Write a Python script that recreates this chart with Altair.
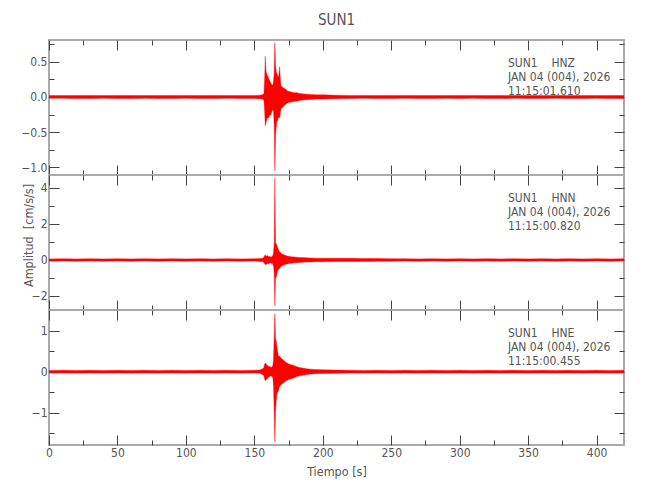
import altair as alt
import pandas as pd

FONT = "Liberation Sans Narrow, DejaVu Sans Condensed, Liberation Sans, sans-serif"

# ---------------- data (envelope of each trace) ----------------
TIME = [0, 10, 20, 30, 40, 50, 60, 70, 80, 90, 100, 110, 120, 130, 140, 150,
        154, 156, 157,
        157.5, 158, 158.5, 159, 159.5, 160, 160.5, 161, 161.5, 162, 162.5, 163, 163.5,
        164, 164.5, 165, 165.5, 166, 166.5, 167, 167.5, 168, 168.5, 169, 169.5, 170,
        171, 172, 173, 174, 175,
        177, 179, 181, 183, 185,
        188, 191, 195, 200,
        210, 220, 230, 240, 250, 260, 270, 280, 290, 300, 310, 320, 330, 340, 350,
        360, 370, 380, 390, 400, 410, 420]

HNZ_UP = [.02, .022, .02, .022, .02, .022, .02, .022, .02, .022, .022, .02, .022, .02, .022, .022,
          .025, .03, .05,
          .25, .58, .37, .33, .30, .29, .26, .24, .22, .20, .18, .17, .17,
          .22, .35, .77, .45, .36, .33, .30, .28, .33, .43, .25, .16, .15,
          .13, .12, .11, .09, .08,
          .07, .06, .06, .05, .045,
          .04, .035, .03, .03,
          .025, .022, .022, .02, .022, .022, .02, .022, .02, .022, .022, .02, .022, .02, .022,
          .022, .02, .022, .02, .022, .022, .02]
HNZ_LO = [-.02, -.02, -.022, -.022, -.02, -.022, -.022, -.02, -.022, -.022, -.02, -.022, -.022, -.02, -.022, -.022,
          -.025, -.03, -.05,
          -.20, -.41, -.37, -.33, -.30, -.28, -.30, -.27, -.25, -.26, -.22, -.20, -.18,
          -.20, -.40, -1.05, -.55, -.42, -.35, -.33, -.30, -.28, -.30, -.22, -.17, -.16,
          -.14, -.12, -.10, -.09, -.08,
          -.07, -.06, -.06, -.05, -.045,
          -.04, -.035, -.03, -.03,
          -.025, -.022, -.02, -.022, -.022, -.02, -.022, -.022, -.02, -.022, -.02, -.022, -.022, -.02, -.022,
          -.022, -.02, -.022, -.022, -.02, -.022, -.022]

HNN_UP = [.06, .07, .06, .07, .06, .07, .06, .07, .06, .07, .06, .07, .06, .07, .06, .07,
          .08, .10, .15,
          .25, .28, .24, .22, .25, .20, .18, .20, .17, .18, .16, .20, .25,
          .40, .90, 4.55, .95, .90, .80, .70, .60, .50, .46, .42, .38, .34,
          .30, .27, .25, .22, .20,
          .18, .17, .15, .14, .13,
          .12, .11, .10, .10,
          .09, .09, .08, .08, .07, .07, .06, .07, .06, .07, .06, .07, .06, .07, .06,
          .07, .06, .07, .06, .07, .06, .07]
HNN_LO = [-.07, -.06, -.07, -.06, -.07, -.06, -.07, -.06, -.07, -.06, -.07, -.06, -.07, -.06, -.07, -.06,
          -.08, -.09, -.13,
          -.22, -.26, -.25, -.22, -.20, -.22, -.20, -.18, -.17, -.16, -.18, -.20, -.22,
          -.35, -.70, -2.55, -1.00, -.95, -.75, -.60, -.55, -.50, -.46, -.40, -.36, -.33,
          -.30, -.27, -.24, -.22, -.20,
          -.18, -.16, -.15, -.14, -.13,
          -.12, -.11, -.10, -.10,
          -.09, -.08, -.08, -.07, -.07, -.06, -.07, -.06, -.07, -.06, -.07, -.06, -.07, -.06, -.07,
          -.06, -.07, -.06, -.07, -.06, -.07, -.06]

HNE_UP = [.03, .035, .03, .035, .03, .035, .03, .035, .03, .035, .03, .035, .03, .035, .03, .035,
          .04, .07, .10,
          .18, .21, .20, .17, .15, .14, .12, .13, .11, .12, .10, .12, .15,
          .30, .84, 1.41, .80, .75, .60, .50, .39, .37, .38, .35, .33, .32,
          .29, .26, .23, .21, .19,
          .17, .15, .12, .10, .09,
          .07, .06, .05, .045,
          .04, .035, .03, .035, .03, .035, .03, .035, .03, .035, .03, .035, .03, .035, .03,
          .035, .03, .035, .03, .035, .03, .035]
HNE_LO = [-.035, -.03, -.035, -.03, -.035, -.03, -.035, -.03, -.035, -.03, -.035, -.03, -.035, -.03, -.035, -.03,
          -.04, -.07, -.10,
          -.18, -.22, -.20, -.18, -.17, -.15, -.13, -.12, -.11, -.10, -.11, -.12, -.15,
          -.35, -.99, -1.72, -.95, -.70, -.55, -.50, -.48, -.40, -.36, -.34, -.32, -.30,
          -.28, -.25, -.23, -.21, -.19,
          -.17, -.15, -.12, -.10, -.09,
          -.07, -.06, -.05, -.045,
          -.04, -.03, -.035, -.03, -.035, -.03, -.035, -.03, -.035, -.03, -.035, -.03, -.035, -.03, -.035,
          -.03, -.035, -.03, -.035, -.03, -.035, -.03]

STATION = "SUN1"
CHANNELS = ["HNZ", "HNN", "HNE"]
DATE_TEXT = "JAN 04 (004), 2026"
START_TIMES = ["11:15:01.610", "11:15:00.820", "11:15:00.455"]

X_DOMAIN = [0, 420]
X_MAJOR = [0, 50, 100, 150, 200, 250, 300, 350, 400]
X_MINOR = [25, 75, 125, 175, 225, 275, 325, 375]

Y_DOMAINS = [[-1.11, 0.81], [-2.78, 4.72], [-1.79, 1.505]]
Y_MAJOR = [[-1.0, -0.5, 0.0, 0.5], [-2, 0, 2, 4], [-1, 0, 1]]
Y_MINOR = [[-0.75, -0.25, 0.25, 0.75], [-1, 1, 3], [-1.5, -0.5, 0.5]]
Y_FORMAT = [".1f", "d", "d"]

UPS = [HNZ_UP, HNN_UP, HNE_UP]
LOS = [HNZ_LO, HNN_LO, HNE_LO]

# ---------------- styling ----------------
W, H = 575, 135
FRAME = "#aaaaaa"
TICK = "#444444"
TXT = "#555555"
RED = "#ff0000"


def tick_axis(orient, offset, values, size):
    return alt.Axis(orient=orient, offset=offset, values=values, labels=False, domain=False,
                    grid=False, ticks=True, tickSize=size, tickColor=TICK, tickWidth=1,
                    title=None)


def panel(i):
    df = pd.DataFrame({"t": TIME, "up": UPS[i], "lo": LOS[i]})
    xs = alt.Scale(domain=X_DOMAIN, nice=False, zero=False)
    ys = alt.Scale(domain=Y_DOMAINS[i], nice=False, zero=False)
    base = alt.Chart(df)
    show_x = i == 2

    if show_x:
        xaxis = alt.Axis(orient="bottom", values=X_MAJOR, labels=True, ticks=False, tickSize=0,
                         domain=False, grid=False, title="Tiempo\u00a0[s]",
                         labelFont=FONT, labelFontSize=12, labelColor=TXT, labelPadding=2,
                         titleFont=FONT, titleFontSize=12.5, titleColor=TXT,
                         titleFontWeight="normal", titlePadding=7, labelFlush=False)
    else:
        xaxis = alt.Axis(orient="bottom", values=X_MAJOR, labels=False, ticks=False,
                         domain=False, grid=False, title=None)

    if i == 1:
        yaxis = alt.Axis(orient="left", values=Y_MAJOR[i], format=Y_FORMAT[i], ticks=False,
                         tickSize=0, domain=False, grid=False,
                         title="Amplitud\u00a0\u00a0[cm/s/s]",
                         labelFont=FONT, labelFontSize=12, labelColor=TXT, labelPadding=2,
                         titleFont=FONT, titleFontSize=12.5, titleColor=TXT,
                         titleFontWeight="normal", titleX=-14, titleY=60,
                         titleBaseline="bottom", labelFlush=False)
    else:
        yaxis = alt.Axis(orient="left", values=Y_MAJOR[i], format=Y_FORMAT[i], ticks=False,
                         tickSize=0, domain=False, grid=False, title=None,
                         labelFont=FONT, labelFontSize=12, labelColor=TXT, labelPadding=2,
                         labelFlush=False)

    area = base.mark_area(color=RED, stroke=RED, strokeWidth=0.4, clip=True).encode(
        x=alt.X("t:Q", scale=xs, axis=xaxis),
        y=alt.Y("up:Q", scale=ys, axis=yaxis),
        y2="lo:Q",
    )

    layers = [area]
    # inward ticks on bottom & left edges
    for xv, yv, sz in [(X_MAJOR, Y_MAJOR[i], 10), (X_MINOR, Y_MINOR[i], 5)]:
        layers.append(base.mark_point(opacity=0, size=0, clip=True).encode(
            x=alt.X("t:Q", scale=xs, axis=tick_axis("top", -H, xv, sz)),
            y=alt.Y("up:Q", scale=ys, axis=tick_axis("right", -W, yv, sz)),
        ))
    # inward ticks on top & right edges
    for xv, yv, sz in [(X_MAJOR, Y_MAJOR[i], 10), (X_MINOR, Y_MINOR[i], 5)]:
        layers.append(base.mark_point(opacity=0, size=0, clip=True).encode(
            x=alt.X("t:Q", scale=xs, axis=tick_axis("bottom", -H, xv, sz)),
            y=alt.Y("up:Q", scale=ys, axis=tick_axis("left", -W, yv, sz)),
        ))

    label = (STATION + "\u00a0\u00a0\u00a0\u00a0" + CHANNELS[i] + "\n" + DATE_TEXT + "\n"
             + START_TIMES[i])
    ann = alt.Chart(pd.DataFrame({"txt": [label]})).mark_text(
        align="left", baseline="top", font=FONT, fontSize=12, color=TXT,
        lineBreak="\n", lineHeight=14.3,
    ).encode(x=alt.value(459), y=alt.value(17.5), text="txt:N")
    layers.append(ann)

    props = dict(width=W, height=H)
    if i == 0:
        props["title"] = alt.Title(STATION, anchor="middle", frame="group", font=FONT,
                                   fontSize=15, fontWeight="normal", color=TXT, offset=12)
    return alt.layer(*layers).resolve_axis(x="independent", y="independent").properties(**props)


chart = alt.vconcat(panel(0), panel(1), panel(2), spacing=0, bounds="flush").configure_view(
    stroke=FRAME, strokeWidth=2
).properties(padding={"left": 11, "top": 3, "right": 5, "bottom": 5})

chart.save("out.html", embed_options={"renderer": "svg", "actions": False})
